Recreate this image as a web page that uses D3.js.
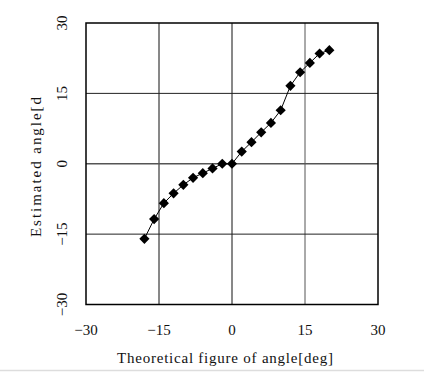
<!DOCTYPE html>
<html><head><meta charset="utf-8">
<script src="https://cdn.jsdelivr.net/npm/d3@7"></script>
<style>body{margin:0;background:#fff}</style>
</head><body>
<svg id="c" width="424" height="372"></svg>
<script>
const xValues = [-18,-16,-14,-12,-10,-8,-6,-4,-2,0,2,4,6,8,10,12,14,16,18,20];
const yValues = [-16,-11.8,-8.4,-6.3,-4.5,-3.0,-2.0,-1.0,0,0,2.6,4.6,6.7,8.7,11.4,16.6,19.5,21.5,23.5,24.2];
const xTicks = [-30,-15,0,15,30];
const yTicks = [-30,-15,0,15,30];
const xTitle = "Theoretical figure of angle[deg]";
const yTitle = "Estimated angle[d";

const svg = d3.select("#c");
const L=86, R=378, T=23, B=304.5;
const x = d3.scaleLinear().domain([-30,30]).range([L,R]);
const y = d3.scaleLinear().domain([-30,30]).range([B,T]);
const font = "'Liberation Serif','DejaVu Serif',serif";

// grid
const g = svg.append("g");
g.selectAll(".vx").data(xTicks.slice(1,-1)).join("line")
  .attr("x1",d=>x(d)).attr("x2",d=>x(d)).attr("y1",T).attr("y2",B)
  .attr("stroke",d=>d===15?"#555":"#111").attr("stroke-width",1);
g.selectAll(".hy").data(yTicks.slice(1,-1)).join("line")
  .attr("y1",d=>y(d)).attr("y2",d=>y(d)).attr("x1",L).attr("x2",R)
  .attr("stroke",d=>d===0?"#555":"#222").attr("stroke-width",d=>d===0?1.5:1);
// border
svg.append("rect").attr("x",L).attr("y",T).attr("width",R-L).attr("height",B-T)
  .attr("fill","none").attr("stroke","#000").attr("stroke-width",1.5);

// x tick labels
svg.selectAll(".xt").data(xTicks).join("text")
  .attr("x",d=>x(d)).attr("y",335).attr("text-anchor","middle")
  .attr("font-family",font).attr("font-size",15).attr("fill","#111")
  .text(d=>d<0?"\u2212"+Math.abs(d):d);
// y tick labels (rotated)
svg.selectAll(".yt").data(yTicks).join("text")
  .attr("transform",d=>`translate(67,${y(d)}) rotate(-90)`)
  .attr("text-anchor","middle")
  .attr("font-family",font).attr("font-size",15).attr("fill","#111")
  .text(d=>d<0?"\u2212"+Math.abs(d):d);

// titles
svg.append("text").attr("x",117).attr("y",363)
  .attr("font-family",font).attr("font-size",15).attr("fill","#111")
  .attr("textLength",216).attr("lengthAdjust","spacing").text(xTitle);
svg.append("text").attr("transform","translate(41,237) rotate(-90)")
  .attr("font-family",font).attr("font-size",15).attr("fill","#111")
  .attr("textLength",140).attr("lengthAdjust","spacing").text(yTitle);

// bottom separator
svg.append("line").attr("x1",0).attr("x2",424).attr("y1",370.5).attr("y2",370.5)
  .attr("stroke","#ddd").attr("stroke-width",1.5);

const data = xValues.map((v,i)=>({x:v,y:yValues[i]}));
svg.append("path").datum(data)
  .attr("d",d3.line().x(d=>x(d.x)).y(d=>y(d.y)))
  .attr("fill","none").attr("stroke","#000").attr("stroke-width",1);
svg.selectAll(".m").data(data).join("path")
  .attr("transform",d=>`translate(${x(d.x)},${y(d.y)}) rotate(45)`)
  .attr("d",d3.symbol().type(d3.symbolSquare).size(52))
  .attr("fill","#000");
</script>
</body></html>
